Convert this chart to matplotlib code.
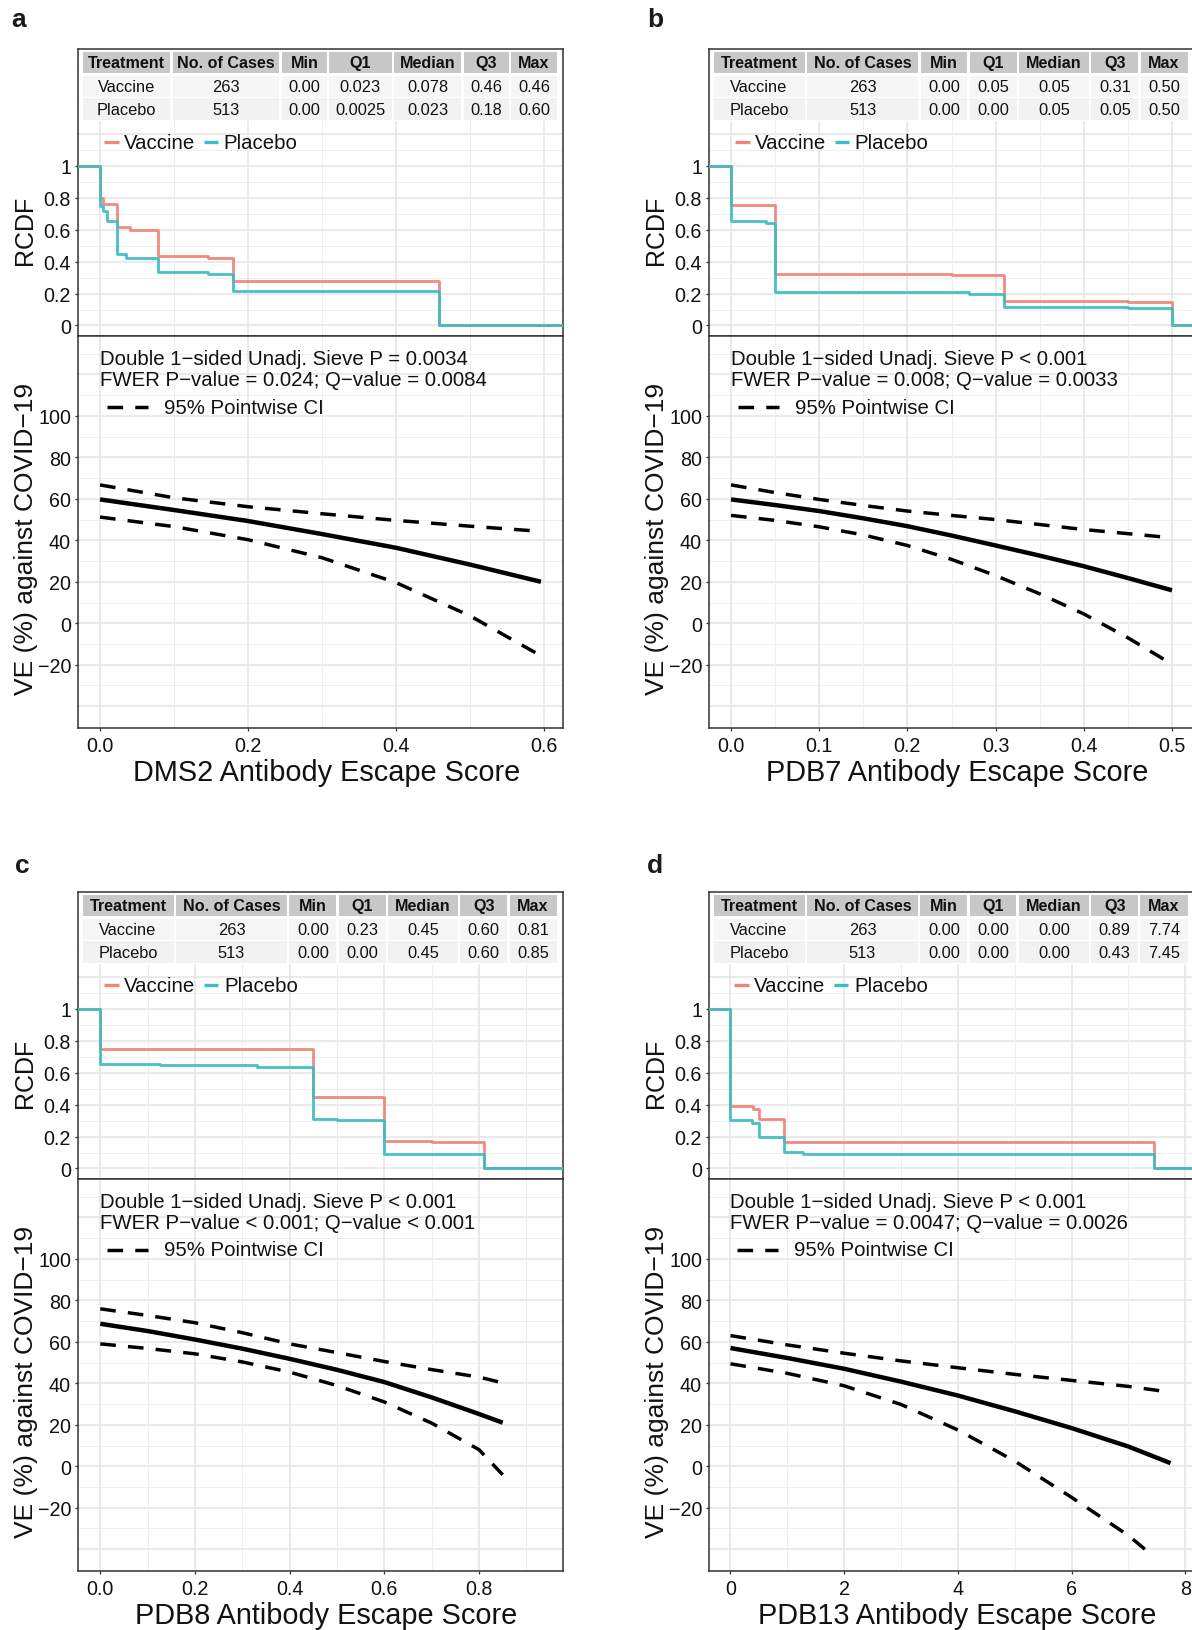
import numpy as np
import matplotlib
matplotlib.use("Agg")
import matplotlib.pyplot as plt
from matplotlib.patches import Rectangle
from matplotlib.lines import Line2D

plt.rcParams['font.family'] = ['Liberation Sans', 'DejaVu Sans']

# ------------------------------------------------------------------ data
panel_letters = ["a", "b", "c", "d"]
x_titles = ["DMS2 Antibody Escape Score", "PDB7 Antibody Escape Score",
            "PDB8 Antibody Escape Score", "PDB13 Antibody Escape Score"]

table_header = ["Treatment", "No. of Cases", "Min", "Q1", "Median", "Q3", "Max"]
groups = ["Vaccine", "Placebo"]
n_cases = ["263", "513"]

stats_a_vac = ["0.00", "0.023", "0.078", "0.46", "0.46"]
stats_a_pla = ["0.00", "0.0025", "0.023", "0.18", "0.60"]
stats_b_vac = ["0.00", "0.05", "0.05", "0.31", "0.50"]
stats_b_pla = ["0.00", "0.00", "0.05", "0.05", "0.50"]
stats_c_vac = ["0.00", "0.23", "0.45", "0.60", "0.81"]
stats_c_pla = ["0.00", "0.00", "0.45", "0.60", "0.85"]
stats_d_vac = ["0.00", "0.00", "0.00", "0.89", "7.74"]
stats_d_pla = ["0.00", "0.00", "0.00", "0.43", "7.45"]

p_line1 = ["Double 1\u2212sided Unadj. Sieve P = 0.0034",
           "Double 1\u2212sided Unadj. Sieve P < 0.001",
           "Double 1\u2212sided Unadj. Sieve P < 0.001",
           "Double 1\u2212sided Unadj. Sieve P < 0.001"]
p_line2 = ["FWER P\u2212value = 0.024; Q\u2212value = 0.0084",
           "FWER P\u2212value = 0.008; Q\u2212value = 0.0033",
           "FWER P\u2212value < 0.001; Q\u2212value < 0.001",
           "FWER P\u2212value = 0.0047; Q\u2212value = 0.0026"]

x_ticks_a = [0.0, 0.2, 0.4, 0.6]
x_ticklabels_a = ["0.0", "0.2", "0.4", "0.6"]
x_ticks_b = [0.0, 0.1, 0.2, 0.3, 0.4, 0.5]
x_ticklabels_b = ["0.0", "0.1", "0.2", "0.3", "0.4", "0.5"]
x_ticks_c = [0.0, 0.2, 0.4, 0.6, 0.8]
x_ticklabels_c = ["0.0", "0.2", "0.4", "0.6", "0.8"]
x_ticks_d = [0, 2, 4, 6, 8]
x_ticklabels_d = ["0", "2", "4", "6", "8"]

rcdf_ticks = [0, 0.2, 0.4, 0.6, 0.8, 1]
rcdf_ticklabels = ["0", "0.2", "0.4", "0.6", "0.8", "1"]
ve_ticks = [-20, 0, 20, 40, 60, 80, 100]
ve_ticklabels = ["\u221220", "0", "20", "40", "60", "80", "100"]

# RCDF step curves: change points and values after each change
a_vac_x = [0.0, 0.004, 0.023, 0.04, 0.078, 0.146, 0.18, 0.458]
a_vac_y = [0.80, 0.76, 0.615, 0.60, 0.435, 0.425, 0.28, 0.0]
a_pla_x = [0.0, 0.004, 0.0093, 0.023, 0.035, 0.078, 0.146, 0.18, 0.458]
a_pla_y = [0.75, 0.72, 0.655, 0.45, 0.425, 0.335, 0.325, 0.215, 0.0]

b_vac_x = [0.0, 0.05, 0.25, 0.31, 0.45, 0.5]
b_vac_y = [0.755, 0.322, 0.318, 0.153, 0.146, 0.0]
b_pla_x = [0.0, 0.04, 0.05, 0.27, 0.31, 0.45, 0.5]
b_pla_y = [0.655, 0.645, 0.207, 0.2, 0.115, 0.11, 0.0]

c_vac_x = [0.0, 0.45, 0.6, 0.7, 0.81]
c_vac_y = [0.75, 0.45, 0.17, 0.165, 0.0]
c_pla_x = [0.0, 0.127, 0.33, 0.45, 0.5, 0.6, 0.7, 0.81]
c_pla_y = [0.652, 0.647, 0.636, 0.31, 0.305, 0.09, 0.088, 0.0]

d_vac_x = [0.0, 0.4, 0.5, 0.94, 7.45, 7.74]
d_vac_y = [0.39, 0.37, 0.31, 0.163, 0.005, 0.0]
d_pla_x = [0.0, 0.37, 0.5, 0.94, 1.27, 7.45]
d_pla_y = [0.303, 0.285, 0.199, 0.105, 0.092, 0.0]

# VE curves (estimate, upper, lower)
a_ve_x = [0.0, 0.1, 0.2, 0.3, 0.4, 0.5, 0.596]
a_ve = [59.7, 54.6, 49.3, 43.0, 36.4, 28.3, 20.0]
a_hi = [66.7, 60.5, 56.2, 52.8, 49.6, 46.8, 44.3]
a_lo = [51.2, 46.6, 40.3, 31.6, 19.6, 3.6, -15.7]

b_ve_x = [0.0, 0.05, 0.1, 0.15, 0.2, 0.25, 0.3, 0.35, 0.4, 0.45, 0.5]
b_ve = [59.7, 57.0, 54.1, 50.6, 46.8, 42.3, 37.5, 32.6, 27.5, 21.8, 15.9]
b_hi = [66.7, 63.0, 59.7, 56.8, 54.1, 52.0, 50.0, 47.6, 45.2, 43.2, 41.2]
b_lo = [52.0, 49.6, 46.5, 42.6, 37.5, 30.8, 23.0, 14.2, 4.5, -7.0, -19.7]

c_ve_x = [0.0, 0.1, 0.2, 0.3, 0.4, 0.5, 0.6, 0.7, 0.8, 0.85]
c_ve = [68.7, 65.2, 61.1, 56.7, 51.8, 46.5, 40.6, 33.2, 25.2, 21.0]
c_hi = [75.9, 72.7, 69.2, 64.4, 59.0, 54.8, 50.5, 46.6, 43.0, 40.2]
c_lo = [59.0, 56.8, 54.2, 50.3, 45.4, 38.9, 31.0, 20.8, 8.0, -4.1]

d_ve_x = [0, 1, 2, 3, 4, 5, 6, 7, 7.74]
d_ve = [57.0, 52.2, 47.0, 40.8, 34.1, 26.5, 18.4, 9.5, 1.5]
d_hi = [63.0, 58.5, 54.5, 50.8, 47.5, 44.3, 41.4, 38.5, 35.7]
d_lo_x = [0, 1, 2, 3, 4, 5, 6, 7, 7.35]
d_lo = [49.4, 44.8, 38.8, 29.8, 17.5, 2.5, -15.0, -33.4, -41.4]

# ------------------------------------------------------------------ layout / style
W, H = 1192, 1631
DPI = 100
fig = plt.figure(figsize=(W / DPI, H / DPI), dpi=DPI)
fig.patch.set_facecolor("white")


def fx(px):
    return px / W


def fy(py):
    return 1 - py / H


VAC_COL = "#F0857A"
PLA_COL = "#3DBDC3"
GRID_MAJ = "#E4E4E4"
GRID_MIN = "#EDEDED"
FRAME = "#333333"
TXT = "#111111"

FS_ANN = 14.7     # annotation / legend text
FS_TICK = 14.2
FS_XLAB = 20.8
FS_YLAB = 19.0

PW = 485.0          # panel width px
RC_H = 287.0        # RCDF height
VE_H = 392.0        # VE height
RC_YLIM = (-0.066, 1.733)
VE_YLIM = (-50.5, 138.5)

panels = [
    dict(letter=panel_letters[0], lpos=(11, 27), left=78, top=50,
         xlim=(-0.0298, 0.6258), xt=x_ticks_a, xtl=x_ticklabels_a, minor=0.1,
         stats=(stats_a_vac, stats_a_pla),
         steps=((a_vac_x, a_vac_y), (a_pla_x, a_pla_y)),
         ve=(a_ve_x, a_ve, a_hi, a_ve_x, a_lo), xlab=x_titles[0], p1=p_line1[0], p2=p_line2[0]),
    dict(letter=panel_letters[1], lpos=(647, 27), left=709, top=50,
         xlim=(-0.025, 0.525), xt=x_ticks_b, xtl=x_ticklabels_b, minor=0.05,
         stats=(stats_b_vac, stats_b_pla),
         steps=((b_vac_x, b_vac_y), (b_pla_x, b_pla_y)),
         ve=(b_ve_x, b_ve, b_hi, b_ve_x, b_lo), xlab=x_titles[1], p1=p_line1[1], p2=p_line2[1]),
    dict(letter=panel_letters[2], lpos=(15, 873), left=78, top=893,
         xlim=(-0.0471, 0.9774), xt=x_ticks_c, xtl=x_ticklabels_c, minor=0.1,
         stats=(stats_c_vac, stats_c_pla),
         steps=((c_vac_x, c_vac_y), (c_pla_x, c_pla_y)),
         ve=(c_ve_x, c_ve, c_hi, c_ve_x, c_lo), xlab=x_titles[2], p1=p_line1[2], p2=p_line2[2]),
    dict(letter=panel_letters[3], lpos=(647, 873), left=709, top=893,
         xlim=(-0.378, 8.153), xt=x_ticks_d, xtl=x_ticklabels_d, minor=1.0,
         stats=(stats_d_vac, stats_d_pla),
         steps=((d_vac_x, d_vac_y), (d_pla_x, d_pla_y)),
         ve=(d_ve_x, d_ve, d_hi, d_lo_x, d_lo), xlab=x_titles[3], p1=p_line1[3], p2=p_line2[3]),
]

renderer = fig.canvas.get_renderer()


def text_width(s, size, weight="normal"):
    t = fig.text(0, 0, s, fontsize=size, fontweight=weight)
    w = t.get_window_extent(renderer).width
    t.remove()
    return w


def style_frame(ax):
    for sp in ax.spines.values():
        sp.set_color(FRAME)
        sp.set_linewidth(1.1)
    ax.set_facecolor("white")


def vgrid(ax, p):
    x0, x1 = p["xlim"]
    m = p["minor"]
    vals = np.arange(0, x1 + 1e-9, m)
    for v in vals:
        is_major = any(abs(v - t) < 1e-9 for t in p["xt"])
        ax.axvline(v, color=GRID_MAJ if is_major else GRID_MIN,
                   lw=1.1 if is_major else 0.6, zorder=0.5)


for p in panels:
    L, T = p["left"], p["top"]
    x0, x1 = p["xlim"]
    xpx0 = L + (0 - x0) / (x1 - x0) * PW   # pixel position of x = 0

    # ---------------- RCDF axes
    ax1 = fig.add_axes([fx(L), fy(T + RC_H), fx(PW), RC_H / H])
    style_frame(ax1)
    ax1.set_xlim(x0, x1)
    ax1.set_ylim(*RC_YLIM)
    for gy in np.arange(0, 1.75, 0.1):
        maj = abs(round(gy / 0.2) * 0.2 - gy) < 1e-6
        ax1.axhline(gy, color=GRID_MAJ if maj else GRID_MIN,
                    lw=1.1 if maj else 0.6, zorder=0.5)
    vgrid(ax1, p)
    (vx, vy), (plx, ply) = p["steps"]
    ax1.step([x0] + list(vx) + [x1], [1.0] + list(vy) + [vy[-1]], where="post",
             color=VAC_COL, lw=2.0, zorder=3, alpha=0.95)
    ax1.step([x0] + list(plx) + [x1], [1.0] + list(ply) + [ply[-1]], where="post",
             color=PLA_COL, lw=2.0, zorder=4, alpha=0.95)
    ax1.set_xticks([])
    ax1.set_yticks(rcdf_ticks)
    ax1.set_yticklabels(rcdf_ticklabels)
    ax1.tick_params(axis="y", length=2.5, width=0.9, color=FRAME, pad=2.5,
                    labelsize=FS_TICK, labelcolor=TXT)
    ax1.set_ylabel("RCDF", fontsize=18, color=TXT)
    ax1.yaxis.set_label_coords(-41 / PW, (0.6 - RC_YLIM[0]) / (RC_YLIM[1] - RC_YLIM[0]))

    # ---------------- VE axes
    ax2 = fig.add_axes([fx(L), fy(T + RC_H + VE_H), fx(PW), VE_H / H])
    style_frame(ax2)
    ax2.set_xlim(x0, x1)
    ax2.set_ylim(*VE_YLIM)
    for gy in np.arange(-50, 140, 10):
        maj = (gy % 20 == 0)
        ax2.axhline(gy, color=GRID_MAJ if maj else GRID_MIN,
                    lw=1.1 if maj else 0.6, zorder=0.5)
    vgrid(ax2, p)
    ex, est, hi, lox, lo = p["ve"]
    ax2.plot(ex, est, color="black", lw=3.2, zorder=3, solid_capstyle="butt")
    ax2.plot(ex, hi, color="black", lw=2.5, ls=(0, (4.5, 3.5)), zorder=3)
    ax2.plot(lox, lo, color="black", lw=2.5, ls=(0, (4.5, 3.5)), zorder=3)
    ax2.set_yticks(ve_ticks)
    ax2.set_yticklabels(ve_ticklabels)
    ax2.set_xticks(p["xt"])
    ax2.set_xticklabels(p["xtl"])
    ax2.tick_params(axis="both", length=2.5, width=0.9, color=FRAME,
                    labelsize=FS_TICK, labelcolor=TXT)
    ax2.tick_params(axis="y", pad=2.5)
    ax2.tick_params(axis="x", pad=3.5)
    ax2.set_ylabel("VE (%) against COVID\u221219", fontsize=FS_YLAB, color=TXT)
    ax2.yaxis.set_label_coords(-40 / PW, (41 - VE_YLIM[0]) / (VE_YLIM[1] - VE_YLIM[0]))

    # x title
    VB = T + RC_H + VE_H
    fig.text(fx(L + PW / 2 + 6), fy(VB + 52.5), p["xlab"], fontsize=FS_XLAB,
             ha="center", va="baseline", color=TXT)

    # panel letter
    fig.text(fx(p["lpos"][0]), fy(p["lpos"][1]), p["letter"], fontsize=19,
             fontweight="bold", ha="left", va="baseline", color="#1a1a1a")

    # VE annotations
    VT = T + RC_H
    fig.text(fx(xpx0), fy(VT + 22.5), p["p1"], fontsize=FS_ANN, ha="left",
             va="center", color=TXT)
    fig.text(fx(xpx0), fy(VT + 43.2), p["p2"], fontsize=FS_ANN, ha="left",
             va="center", color=TXT)
    fig.add_artist(Line2D([fx(xpx0 + 6.7), fx(xpx0 + 48)], [fy(VT + 71), fy(VT + 71)],
                          transform=fig.transFigure, color="black", lw=2.5,
                          ls=(0, (4.5, 3.5))))
    fig.text(fx(xpx0 + 63.5), fy(VT + 71), "95% Pointwise CI", fontsize=FS_ANN,
             ha="left", va="center", color=TXT)

    # RCDF legend
    ly = T + 93.3
    fig.add_artist(Line2D([fx(xpx0 + 4), fx(xpx0 + 18.5)], [fy(ly), fy(ly)],
                          transform=fig.transFigure, color=VAC_COL, lw=2.4,
                          solid_capstyle="butt"))
    fig.text(fx(xpx0 + 23.5), fy(ly), "Vaccine", fontsize=FS_ANN, ha="left",
             va="center", color=TXT)
    fig.add_artist(Line2D([fx(xpx0 + 103.7), fx(xpx0 + 118)], [fy(ly), fy(ly)],
                          transform=fig.transFigure, color=PLA_COL, lw=2.4,
                          solid_capstyle="butt"))
    fig.text(fx(xpx0 + 123.7), fy(ly), "Placebo", fontsize=FS_ANN, ha="left",
             va="center", color=TXT)

    # ---------------- summary table
    fig.add_artist(Rectangle((fx(L + 1.2), fy(T + 72)), fx(PW - 2.4), (72 - 1.2) / H,
                             transform=fig.transFigure, facecolor="white",
                             edgecolor="none", zorder=1.5))
    vac_s, pla_s = p["stats"]
    rows = [[groups[0], n_cases[0]] + list(vac_s),
            [groups[1], n_cases[1]] + list(pla_s)]
    HS, BS = 11.6, 11.8
    nat = []
    for j, h in enumerate(table_header):
        w = text_width(h, HS, "bold")
        for r in rows:
            w = max(w, text_width(r[j], BS))
        nat.append(w + 16)
    gap = 2.4
    total = 474.0
    scale = (total - gap * (len(nat) - 1)) / sum(nat)
    widths = [w * scale for w in nat]
    tx = L + 4.5
    row_tops = [T + 3.3, T + 26.5, T + 49.3]
    row_h = [21.0, 21.8, 21.8]
    fills = ["#C8C8C8", "#F6F6F6", "#F2F2F2"]
    cx = tx
    for j, w in enumerate(widths):
        for i in range(3):
            fig.add_artist(Rectangle((fx(cx), fy(row_tops[i] + row_h[i])), fx(w), row_h[i] / H,
                                     transform=fig.transFigure, facecolor=fills[i],
                                     edgecolor="none", zorder=1.6))
            if i == 0:
                s, fs, fw = table_header[j], HS, "bold"
            else:
                s, fs, fw = rows[i - 1][j], BS, "normal"
            fig.text(fx(cx + w / 2), fy(row_tops[i] + row_h[i] / 2), s, fontsize=fs,
                     fontweight=fw, ha="center", va="center", color=TXT, zorder=2)
        cx += w + gap

fig.savefig("out.png", dpi=DPI)
